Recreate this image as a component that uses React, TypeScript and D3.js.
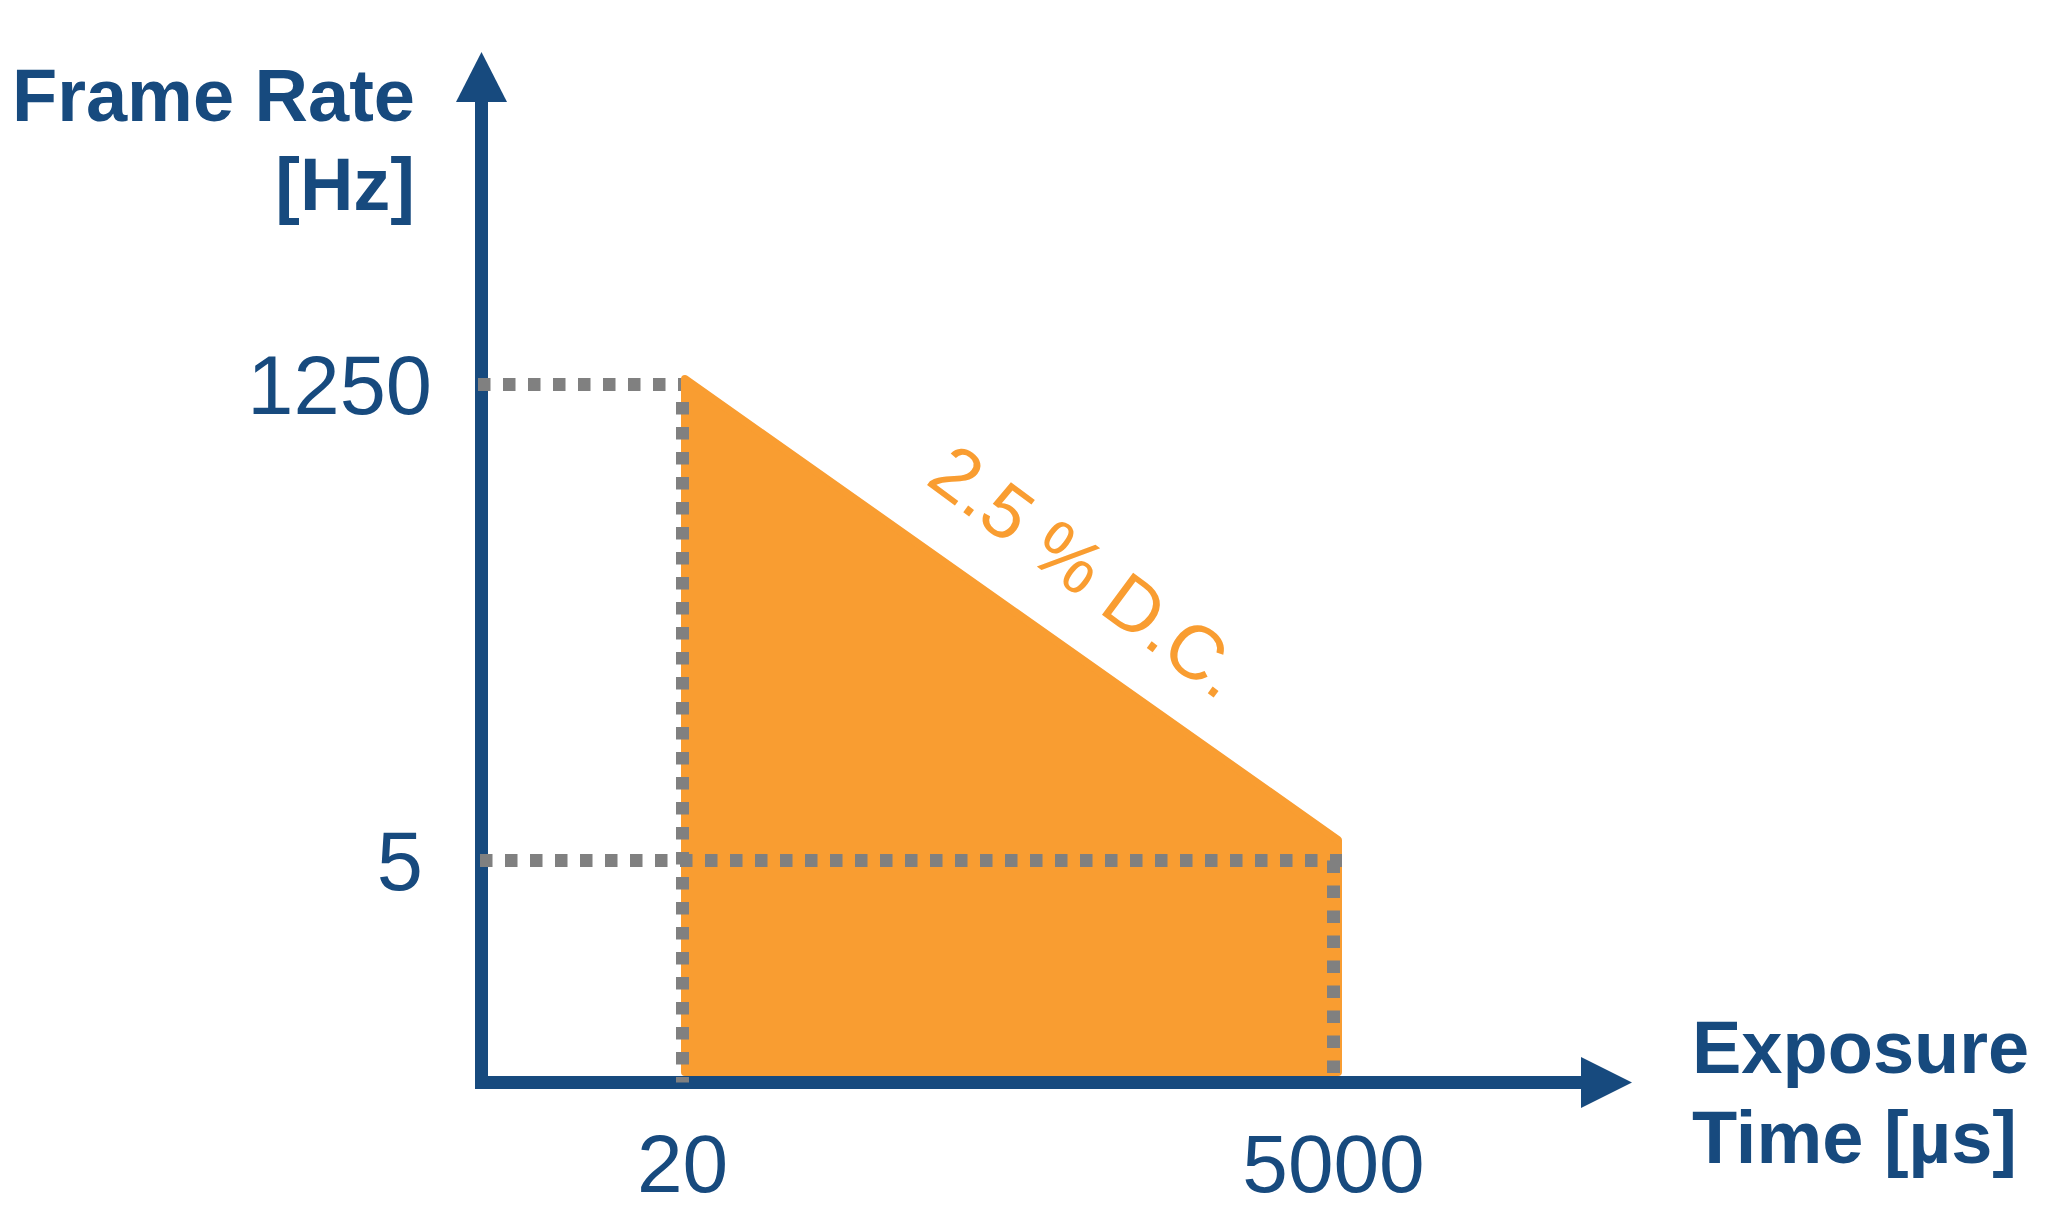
import React from 'react';
import * as d3 from 'd3';

// ---- data ----
const exposureTicks = [20, 5000]; // µs
const frameRateTicks = [1250, 5]; // Hz
const dutyExposure = [20, 5000]; // µs, 2.5 % duty-cycle limit
const dutyFrameRate = [1250, 5]; // Hz
const xTickLabels = ['20', '5000'];
const yTickLabels = ['1250', '5'];
const yTitleLines = ['Frame Rate', '[Hz]'];
const xTitleLines = ['Exposure', 'Time [µs]'];
const dutyLabel = '2.5 % D.C.';

const W = 2071;
const H = 1210;
const BLUE = '#174a7e';
const ORANGE = '#f99d31';
const GRAY = '#808080';
const FONT = "'Liberation Sans', Arial, Helvetica, sans-serif";

export default function App() {
  React.useEffect(() => {
    document.body.style.margin = '0';
    document.body.style.overflow = 'hidden';
  }, []);

  const originX = 481.5;
  const originY = 1082.5;
  const axisW = 13;

  const x = d3.scaleLog().domain([20, 5000]).range([682.5, 1333.5]);
  const y = d3.scaleLog().domain([5, 1250]).range([860.5, 384.5]);

  const pts: [number, number][] = dutyExposure.map((e, i) => [e, dutyFrameRate[i]]);
  // sketch nudges of the hand-drawn shape relative to the guide lines
  const px = (d: [number, number], i: number) => x(d[0]) + (i === 0 ? 2.5 : 4.5);
  const py = (d: [number, number], i: number) => y(d[1]) - (i === 0 ? 5.5 : 20.5);
  const area = d3
    .area<[number, number]>()
    .x((d, i) => px(d, i))
    .y0(originY - axisW / 2 - 4)
    .y1((d, i) => py(d, i));
  const areaPath = area(pts) || '';

  const tl = [px(pts[0], 0), py(pts[0], 0)];
  const tr = [px(pts[1], 1), py(pts[1], 1)];
  const dx = tr[0] - tl[0];
  const dy = tr[1] - tl[1];
  const len = Math.hypot(dx, dy);
  const u = [dx / len, dy / len];
  const n = [u[1], -u[0]];
  const ang = (Math.atan2(dy, dx) * 180) / Math.PI + 1.3;
  const labelPos = [tl[0] + 255 * u[0] + 53 * n[0], tl[1] + 255 * u[1] + 53 * n[1]];

  const dash = '12.5 12.5';
  const dotW = 13;

  const axisPath = d3.path();
  axisPath.moveTo(originX, 100);
  axisPath.lineTo(originX, originY);
  axisPath.lineTo(1583, originY);

  const yLabelRight = [432, 423];

  return (
    <svg width={W} height={H} viewBox={`0 0 ${W} ${H}`} style={{ display: 'block', background: '#fff' }}>
      {/* axes */}
      <path d={axisPath.toString()} fill="none" stroke={BLUE} strokeWidth={axisW} strokeLinejoin="miter" />
      <polygon points={`${originX},52 ${originX - 25.5},102 ${originX + 25.5},102`} fill={BLUE} />
      <polygon points={`1632,${originY} 1581,${originY - 25.5} 1581,${originY + 25.5}`} fill={BLUE} />

      {/* 1250 guide (under the shape) */}
      <line x1={originX - 3.5} x2={x(20)} y1={y(1250)} y2={y(1250)} stroke={GRAY} strokeWidth={dotW} strokeDasharray={dash} />

      {/* duty-cycle area */}
      <path d={areaPath} fill={ORANGE} stroke={ORANGE} strokeWidth={8} strokeLinejoin="round" />

      {/* 5 Hz guide */}
      <line x1={originX - 1.5} x2={x(5000) + 8.5} y1={y(5)} y2={y(5)} stroke={GRAY} strokeWidth={dotW} strokeDasharray={dash} />
      {/* vertical guides */}
      <line x1={x(20)} x2={x(20)} y1={y(1250) + 17.5} y2={originY} stroke={GRAY} strokeWidth={dotW} strokeDasharray={dash} />
      <line x1={x(5000)} x2={x(5000)} y1={y(5)} y2={originY - 6} stroke={GRAY} strokeWidth={dotW} strokeDasharray={dash} />

      {/* tick labels */}
      {frameRateTicks.map((v, i) => (
        <text key={'y' + v} x={yLabelRight[i]} y={y(v) + 29} textAnchor="end" fontFamily={FONT} fontSize={83} fill={BLUE}>
          {yTickLabels[i]}
        </text>
      ))}
      {exposureTicks.map((v, i) => (
        <text key={'x' + v} x={x(v)} y={1192} textAnchor="middle" fontFamily={FONT} fontSize={82} fill={BLUE}>
          {xTickLabels[i]}
        </text>
      ))}

      {/* axis titles */}
      {yTitleLines.map((t, i) => (
        <text key={t} x={415} y={121 + i * 89} textAnchor="end" fontFamily={FONT} fontWeight="bold" fontSize={74} fill={BLUE}>
          {t}
        </text>
      ))}
      {xTitleLines.map((t, i) => (
        <text key={t} x={1692} y={1073 + i * 90} textAnchor="start" fontFamily={FONT} fontWeight="bold" fontSize={74} fill={BLUE}>
          {t}
        </text>
      ))}

      {/* duty-cycle annotation */}
      <text
        transform={`translate(${labelPos[0]},${labelPos[1]}) rotate(${ang})`}
        fontFamily={FONT}
        fontSize={76}
        fill={ORANGE}
      >
        {dutyLabel}
      </text>
    </svg>
  );
}
